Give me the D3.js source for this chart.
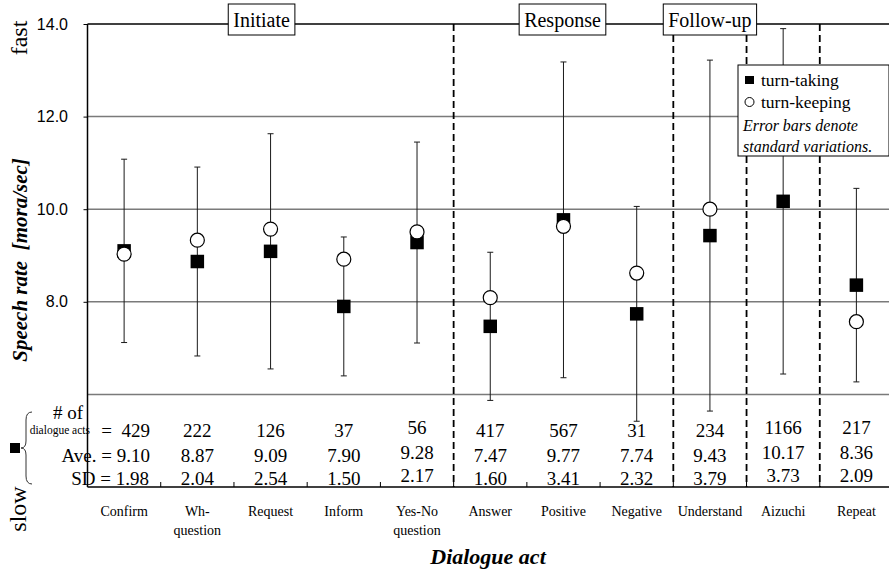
<!DOCTYPE html>
<html><head><meta charset="utf-8">
<script src="https://cdn.jsdelivr.net/npm/d3@7"></script>
<style>
html,body{margin:0;padding:0;background:#fff;}
svg{display:block;}
text{white-space:pre;}
</style></head>
<body>
<svg id="chart" width="889" height="573"></svg>
<script>
// ---- data ----
const categories = ["Confirm","Wh-\nquestion","Request","Inform","Yes-No\nquestion","Answer","Positive","Negative","Understand","Aizuchi","Repeat"];
const counts = [429,222,126,37,56,417,567,31,234,1166,217];
const turnTaking = [9.10,8.87,9.09,7.90,9.28,7.47,9.77,7.74,9.43,10.17,8.36];   // Ave.
const sdValues = [1.98,2.04,2.54,1.50,2.17,1.60,3.41,2.32,3.79,3.73,2.09];
const turnKeeping = [9.03,9.33,9.57,8.92,9.51,8.09,9.63,8.62,10.00,null,7.57];
const yTicks = [8,10,12,14];
const gridValues = [6,8,10,12,14];
const groupBreaks = [5,8,9,10];      // dashed line before these category indices
const groups = [
  {name:"Initiate", at:2, dx:-9},
  {name:"Response", at:6, dx:-1},
  {name:"Follow-up", at:8, dx:0}
];

const serif = "'Liberation Serif','Times New Roman',serif";
const sans = "'Liberation Sans',Arial,sans-serif";

const svg = d3.select("#chart");
const L = 87.5, R = 893, T = 24, B = 487;

const x = d3.scaleBand().domain(d3.range(categories.length)).range([L, R]).padding(0);
const y = d3.scaleLinear().domain([4, 14]).range([B, T]);
const cx = i => x(i) + x.bandwidth()/2;

// gridlines
svg.append("g").selectAll("line").data(gridValues).join("line")
  .attr("x1", L).attr("x2", 889)
  .attr("y1", d => y(d)).attr("y2", d => y(d))
  .attr("stroke", d => d === 14 ? "#000" : "#7a7a7a")
  .attr("stroke-width", 1.5);

// dashed group separators
svg.append("g").selectAll("line").data(groupBreaks).join("line")
  .attr("x1", d => x(d)).attr("x2", d => x(d))
  .attr("y1", y(14)).attr("y2", y(4))
  .attr("stroke", "#000").attr("stroke-width", 1.8)
  .attr("stroke-dasharray", "7,4");

// y axis
const yAxis = d3.axisLeft(y).tickValues(yTicks).tickFormat(d3.format(".1f")).tickSize(4).tickPadding(15.5);
const gy = svg.append("g").attr("transform", `translate(${L},0)`).call(yAxis);
gy.select(".domain").remove();
gy.selectAll("text").attr("font-family", sans).attr("font-size", 16).attr("fill", "#000");
gy.selectAll("line").attr("stroke", "#000");
svg.append("line").attr("x1", L).attr("x2", L).attr("y1", T).attr("y2", B)
  .attr("stroke", "#000").attr("stroke-width", 1.5);

// bottom axis
svg.append("line").attr("x1", L).attr("x2", 889).attr("y1", B).attr("y2", B)
  .attr("stroke", "#000").attr("stroke-width", 1.5);
svg.append("g").selectAll("line").data(d3.range(1, categories.length)).join("line")
  .attr("x1", d => x(d)).attr("x2", d => x(d))
  .attr("y1", B).attr("y2", B - 5)
  .attr("stroke", "#000").attr("stroke-width", 1);

// error bars
const eb = svg.append("g").selectAll("g").data(turnTaking.map((m, i) => ({m, s: sdValues[i], i}))).join("g");
eb.append("line").attr("x1", d => cx(d.i)).attr("x2", d => cx(d.i))
  .attr("y1", d => y(d.m + d.s)).attr("y2", d => y(d.m - d.s))
  .attr("stroke", "#1a1a1a").attr("stroke-width", 1);
eb.append("line").attr("x1", d => cx(d.i) - 3).attr("x2", d => cx(d.i) + 3)
  .attr("y1", d => y(d.m + d.s)).attr("y2", d => y(d.m + d.s))
  .attr("stroke", "#1a1a1a").attr("stroke-width", 1);
eb.append("line").attr("x1", d => cx(d.i) - 3).attr("x2", d => cx(d.i) + 3)
  .attr("y1", d => y(d.m - d.s)).attr("y2", d => y(d.m - d.s))
  .attr("stroke", "#1a1a1a").attr("stroke-width", 1);

// squares (turn-taking)
const sq = 13.5;
svg.append("g").selectAll("rect").data(turnTaking).join("rect")
  .attr("x", (d, i) => cx(i) - sq/2).attr("y", d => y(d) - sq/2)
  .attr("width", sq).attr("height", sq).attr("fill", "#000");

// circles (turn-keeping)
svg.append("g").selectAll("circle")
  .data(turnKeeping.map((v, i) => ({v, i})).filter(d => d.v !== null)).join("circle")
  .attr("cx", d => cx(d.i)).attr("cy", d => y(d.v)).attr("r", 7)
  .attr("fill", "#fff").attr("stroke", "#000").attr("stroke-width", 1.2);

// group labels
groups.forEach(g => {
  const gx = cx(g.at) + g.dx;
  const gg = svg.append("g");
  const rect = gg.append("rect");
  const t = gg.append("text").attr("x", gx).attr("y", 27)
    .attr("text-anchor", "middle").attr("font-family", serif).attr("font-size", 20).text(g.name);
  const w = t.node().getComputedTextLength();
  rect.attr("x", gx - w/2 - 5).attr("y", 4).attr("width", w + 10).attr("height", 31)
    .attr("fill", "#fff").attr("stroke", "#000").attr("stroke-width", 1);
});

// legend
const lg = svg.append("g");
lg.append("rect").attr("x", 738).attr("y", 65).attr("width", 151).attr("height", 91)
  .attr("fill", "#fff").attr("stroke", "#000").attr("stroke-width", 1);
lg.append("rect").attr("x", 745).attr("y", 76).attr("width", 9).attr("height", 8).attr("fill", "#000");
lg.append("circle").attr("cx", 749.5).attr("cy", 102).attr("r", 4.5).attr("fill", "#fff").attr("stroke", "#000");
lg.append("text").attr("x", 761).attr("y", 86).attr("font-family", serif).attr("font-size", 17.5).text("turn-taking");
lg.append("text").attr("x", 761).attr("y", 108).attr("font-family", serif).attr("font-size", 17.5).text("turn-keeping");
lg.append("text").attr("x", 743).attr("y", 131).attr("font-family", serif).attr("font-size", 16).attr("font-style", "italic").text("Error bars denote");
lg.append("text").attr("x", 743).attr("y", 152).attr("font-family", serif).attr("font-size", 16).attr("font-style", "italic").text("standard variations.");

// table
const rowsY = [437, 461.5, 484.5];
const raised = new Set([4, 9, 10]);   // these columns sit slightly higher in the original
const tbl = svg.append("g").attr("font-family", serif).attr("font-size", 19);
const fmt2 = d3.format(".2f");
[counts.map(String), turnTaking.map(fmt2), sdValues.map(fmt2)].forEach((row, r) => {
  tbl.selectAll(null).data(row.slice(1)).join("text")
    .attr("x", (d, i) => cx(i + 1)).attr("y", (d, i) => rowsY[r] - (raised.has(i + 1) ? 3 : 0))
    .attr("text-anchor", "middle").text(d => d);
});
tbl.append("text").attr("x", 150).attr("y", rowsY[0]).attr("text-anchor", "end").text("=  " + counts[0]);
tbl.append("text").attr("x", 150).attr("y", rowsY[1]).attr("text-anchor", "end").text("Ave. = " + fmt2(turnTaking[0]));
tbl.append("text").attr("x", 149).attr("y", rowsY[2]).attr("text-anchor", "end").text("SD = " + fmt2(sdValues[0]));
tbl.append("text").attr("x", 68).attr("y", 419).attr("text-anchor", "middle").text("# of");
tbl.append("text").attr("x", 90).attr("y", 434).attr("text-anchor", "end").attr("font-size", 11.5).text("dialogue acts");

// brace and marker
svg.append("path").attr("d", "M32,412 Q26,412 26,420 L26,441 Q26,448 21,448 Q26,448 26,455 L26,476 Q26,484 32,484")
  .attr("fill", "none").attr("stroke", "#333").attr("stroke-width", 1);
svg.append("rect").attr("x", 10).attr("y", 443).attr("width", 10).attr("height", 10).attr("fill", "#000");

// x category labels
const xl = svg.append("g").attr("font-family", serif).attr("font-size", 14);
categories.forEach((c, i) => {
  c.split("\n").forEach((line, k) => {
    xl.append("text").attr("x", cx(i)).attr("y", 516 + k * 19).attr("text-anchor", "middle").text(line);
  });
});

// axis titles
svg.append("text").attr("x", 488).attr("y", 564).attr("text-anchor", "middle")
  .attr("font-family", serif).attr("font-size", 22).attr("font-weight", "bold").attr("font-style", "italic")
  .text("Dialogue act");
svg.append("text").attr("transform", "translate(27,260) rotate(-90)").attr("text-anchor", "middle")
  .attr("font-family", serif).attr("font-size", 21).attr("font-weight", "bold").attr("font-style", "italic")
  .text("Speech rate  [mora/sec]");
svg.append("text").attr("transform", "translate(27,38) rotate(-90)").attr("text-anchor", "middle")
  .attr("font-family", serif).attr("font-size", 24).text("fast");
svg.append("text").attr("transform", "translate(26,509) rotate(-90)").attr("text-anchor", "middle")
  .attr("font-family", serif).attr("font-size", 24).text("slow");
</script>
</body></html>
